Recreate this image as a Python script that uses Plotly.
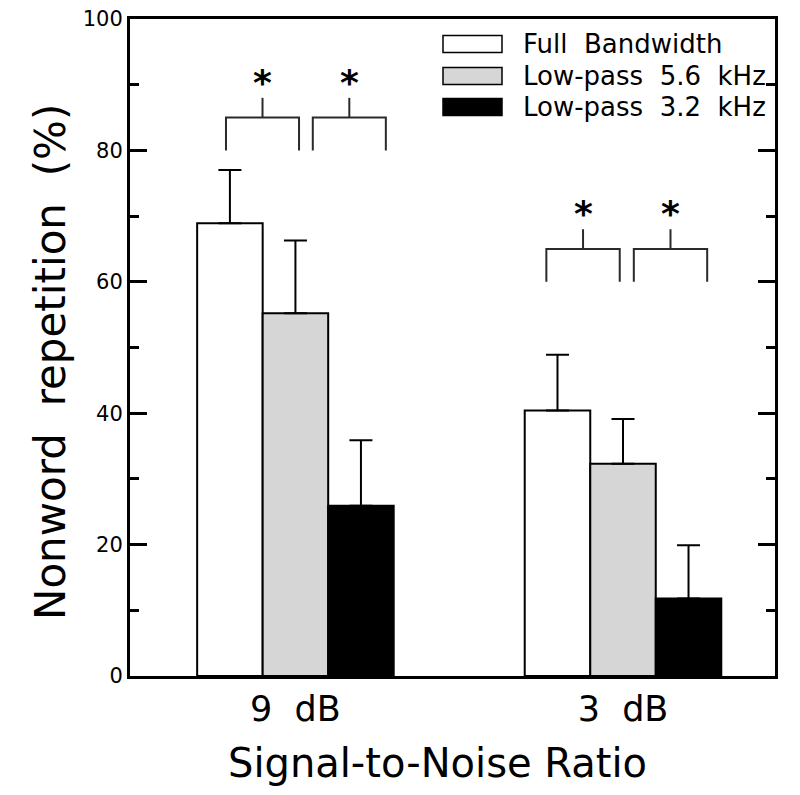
import plotly.graph_objects as go

# ---- data ----
snr_labels = ["9\u00a0\u00a0dB", "3\u00a0\u00a0dB"]
series_names = ["Full Bandwidth", "Low-pass 5.6 kHz", "Low-pass 3.2 kHz"]
full_bw = [68.9, 40.4]
full_bw_upper = [77.0, 48.9]
lp56 = [55.2, 32.3]
lp56_upper = [66.3, 39.1]
lp32 = [25.9, 11.8]
lp32_upper = [35.9, 19.9]
y_ticks = [0, 20, 40, 60, 80, 100]
x_title = "Signal-to-Noise Ratio"
y_title = "Nonword\u00a0\u00a0repetition\u00a0\u00a0(%)"

# significance brackets (x offsets relative to group centre, y in %)
bracket_spans = [[(-0.212, 0.011), (0.053, 0.276)], [(-0.234, -0.010), (0.033, 0.257)]]
bracket_leg = [80, 60]
bracket_top = [85, 65]
bracket_stem = [88, 68]
star_y = [90.7, 70.7]

colors = ["#ffffff", "#d6d6d6", "#000000"]
FONT = "DejaVu Sans"

xpos = list(range(len(snr_labels)))
fig = go.Figure()
vals = [full_bw, lp56, lp32]
uppers = [full_bw_upper, lp56_upper, lp32_upper]
for name, v, u, c in zip(series_names, vals, uppers, colors):
    fig.add_trace(go.Bar(
        x=xpos, y=v, name=name,
        marker=dict(color=c, line=dict(color="black", width=2)),
        error_y=dict(type="data", symmetric=False,
                     array=[b - a for a, b in zip(v, u)],
                     arrayminus=[0] * len(v),
                     color="black", thickness=2, width=11.5),
        showlegend=False,
    ))

# brackets
bx, by = [], []
annotations = []
for g, spans in enumerate(bracket_spans):
    for (l, r) in spans:
        c = (l + r) / 2
        bx += [g + l, g + l, g + r, g + r, None, g + c, g + c, None]
        by += [bracket_leg[g], bracket_top[g], bracket_top[g], bracket_leg[g], None,
               bracket_top[g], bracket_stem[g], None]
        annotations.append(dict(x=g + c, y=star_y[g], xref="x", yref="y",
                                text="<b>*</b>", showarrow=False,
                                font=dict(family=FONT, size=36, color="black"),
                                xanchor="center", yanchor="middle", yshift=-2))
fig.add_trace(go.Scatter(x=bx, y=by, mode="lines",
                         line=dict(color="#2a2a2a", width=2),
                         showlegend=False, hoverinfo="skip", cliponaxis=False))

# page offset (default body margin of the html page)
OFF = 8
plot_top, plot_bot, plot_l, plot_r = 19, 676, 130, 775
H = plot_bot - plot_top
W = plot_r - plot_l

# manual legend
row_px = [44, 76, 107]
shapes = []
legend_text = ["Full\u00a0\u00a0Bandwidth", "Low-pass\u00a0\u00a05.6\u00a0\u00a0kHz",
               "Low-pass\u00a0\u00a03.2\u00a0\u00a0kHz"]
for name, c, ry in zip(legend_text, colors, row_px):
    yc = (plot_bot - ry) / H
    shapes.append(dict(type="rect", xref="paper", yref="paper",
                       x0=(443 - plot_l) / W, x1=(502 - plot_l) / W,
                       y0=yc - 8.5 / H, y1=yc + 8.5 / H,
                       fillcolor=c, line=dict(color="black", width=1.5)))
    annotations.append(dict(x=(521 - plot_l) / W, y=yc, xref="paper", yref="paper",
                            text=name, showarrow=False,
                            xanchor="left", yanchor="middle",
                            font=dict(family=FONT, size=26, color="black")))

# axis titles as annotations (placed like the reference)
annotations.append(dict(x=(437 - plot_l) / W, y=-(763 - plot_bot) / H, xref="paper", yref="paper",
                        text=x_title, showarrow=False, xanchor="center", yanchor="middle",
                        font=dict(family=FONT, size=40, color="black")))
annotations.append(dict(x=(50 - plot_l) / W, y=(plot_bot - 362) / H, xref="paper", yref="paper",
                        text=y_title, showarrow=False, textangle=-90,
                        xanchor="center", yanchor="middle",
                        font=dict(family=FONT, size=42, color="black")))

fig.update_layout(
    width=800, height=795,
    margin=dict(l=plot_l - OFF, r=800 - plot_r + OFF, t=plot_top - OFF,
                b=795 - plot_bot + OFF, autoexpand=False),
    paper_bgcolor="white", plot_bgcolor="white",
    barmode="group", bargap=0.4, bargroupgap=0,
    font=dict(family=FONT, color="black"),
    shapes=shapes, annotations=annotations,
    xaxis=dict(range=[-0.505, 1.464], tickvals=xpos, ticktext=snr_labels,
               ticks="", showline=True, linewidth=3, linecolor="black", mirror=True,
               showgrid=False, zeroline=False, ticklabeloverflow="allow",
               tickfont=dict(family=FONT, size=35)),
    yaxis=dict(range=[0, 100], tickvals=y_ticks, ticks="inside", ticklen=17, tickwidth=3,
               tickcolor="black", showline=True, linewidth=3, linecolor="black",
               mirror="ticks", showgrid=False, zeroline=False, ticklabeloverflow="allow",
               minor=dict(dtick=10, ticks="inside", ticklen=9, tickwidth=3, tickcolor="black",
                          showgrid=False),
               tickfont=dict(family=FONT, size=21)),
)

fig.write_html("out.html")
